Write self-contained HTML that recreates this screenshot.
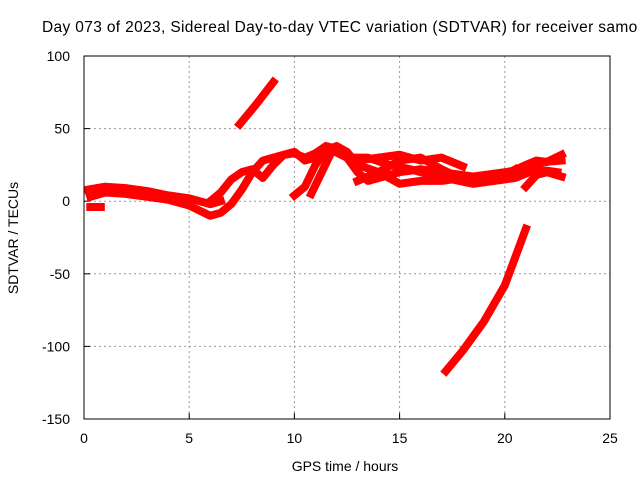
<!DOCTYPE html>
<html><head><meta charset="utf-8"><style>
body{margin:0;background:#fff}
svg{display:block;font-family:"Liberation Sans",sans-serif;font-size:14px}
</style></head><body>
<svg id="c" width="640" height="480">
<text x="42" y="32" style="font-size:15.5px;letter-spacing:0.35px">Day 073 of 2023, Sidereal Day-to-day VTEC variation (SDTVAR) for receiver samo</text>
<g id="grid"></g>
<g id="ticks"></g>
<g id="series"></g>
<rect x="84" y="56" width="526" height="363" fill="none" stroke="#000"/>
<text x="345" y="471" text-anchor="middle">GPS time / hours</text>
<text transform="translate(18,238) rotate(-90)" text-anchor="middle">SDTVAR / TECUs</text>
</svg>
<script>
const xTicks=[0,5,10,15,20,25];
const yTicks=[100,50,0,-50,-100,-150];
const s1=[[0.2,8],[1,10],[2,9],[3,7],[4,4],[5,2],[6,-2],[6.5,0]];
const s2=[[0.3,3],[1,6],[2,5],[3,3],[4,1],[5,-3],[6,-10],[6.5,-8],[7,-2],[7.5,8],[8,20],[8.5,28],[9,30],[9.5,32],[10,34],[10.5,28],[11,30],[11.5,37],[12,35],[12.5,30],[13,20],[13.5,14],[14,16],[15,20],[16,22],[17,20],[18,18],[19,16],[20,18],[21,25],[21.5,28],[22,27],[22.7,32]];
const s3=[[6,0],[6.5,6],[7,15],[7.5,20],[8,22],[8.5,16],[9,25],[9.5,32],[10,33],[10.5,30],[11,33],[11.5,38],[12,36],[13,28],[14,30],[15,32],[16,28],[17,30],[18,24]];
const s4=[[10,4],[10.5,10],[11,25],[11.5,35],[12,38],[12.5,34],[13,25],[14,20],[15,12],[16,14],[17,14],[18,16],[19,18],[20,20],[21,22],[21.8,27],[22.7,28]];
const s5=[[10.8,5],[11.3,20],[11.8,35],[12.5,30],[13.5,30],[14.5,25],[15.5,22],[16.5,18],[17.5,15],[18.5,12],[19.5,14],[20.5,16],[21.5,22],[22.5,20]];
const s6=[[13,14],[14,20],[15,28],[16,30],[17,22],[18,15],[19,13],[20,18],[20.5,22]];
const s7=[[21,10],[21.5,18],[22,20],[22.7,17]];
const s8=[[0.3,-4],[0.8,-4]];
const s9=[[7.4,53],[8.2,67],[9.0,82]];
const s10=[[17.2,-117],[18,-103],[19,-83],[20,-58],[21,-19]];
const allSeries=[s1,s2,s3,s4,s5,s6,s7,s8,s9,s10];
const X=h=>84+h*526/25, Y=v=>56+(100-v)*363/250;
const NS="http://www.w3.org/2000/svg";
const g=document.getElementById('grid'),t=document.getElementById('ticks'),sg=document.getElementById('series');
function mk(tag,a,p){const e=document.createElementNS(NS,tag);for(const k in a)e.setAttribute(k,a[k]);p.appendChild(e);return e;}
xTicks.forEach(v=>{const x=X(v);
 if(v>0&&v<25){const l=mk('line',{x1:x,x2:x,y1:56,y2:419,stroke:'#999','stroke-dasharray':'2,3'},g);
 
 }
 const tk=mk('line',{x1:x,x2:x,y1:419,y2:413,stroke:'#000'},t);
 
 
 const tx=mk('text',{x:x,y:443,'text-anchor':'middle'},t);tx.textContent=v;
 
 });
yTicks.forEach(v=>{const y=Y(v);
 if(v<100&&v>-150){const l=mk('line',{x1:84,x2:610,y1:y,y2:y,stroke:'#999','stroke-dasharray':'2,3'},g);
 
 }
 const tk=mk('line',{x1:84,x2:90,y1:y,y2:y,stroke:'#000'},t);
 
 
 const tx=mk('text',{x:70,y:y+5,'text-anchor':'end'},t);tx.textContent=v;
 
 });
allSeries.forEach((s,i)=>{
 const p=mk('polyline',{points:s.map(d=>X(d[0])+','+Y(d[1])).join(' '),fill:'none',stroke:'#f00','stroke-width':8,'stroke-linejoin':'round','stroke-linecap':'square'},sg);
 
 });
</script>
</body></html>
